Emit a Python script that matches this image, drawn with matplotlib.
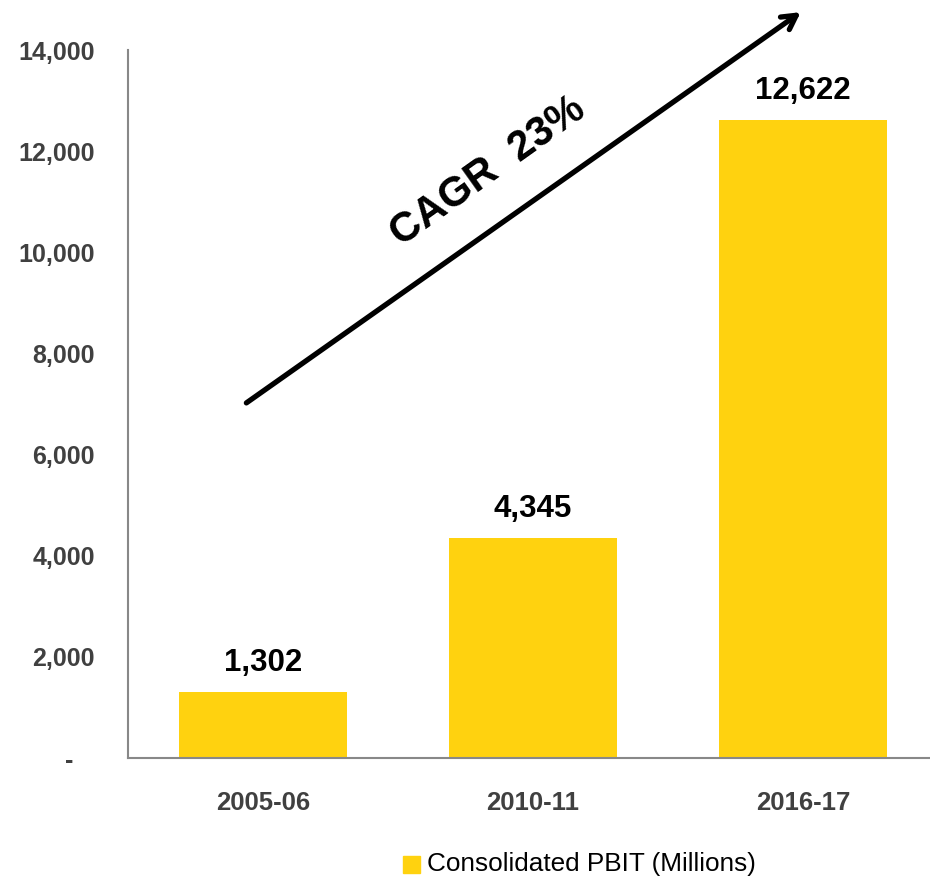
import matplotlib
matplotlib.use("Agg")
import matplotlib.pyplot as plt
from matplotlib import font_manager

categories = ["2005-06", "2010-11", "2016-17"]
values = [1302, 4345, 12622]
yticks = [0, 2000, 4000, 6000, 8000, 10000, 12000, 14000]
ytick_labels = ["-   ", "2,000", "4,000", "6,000", "8,000", "10,000", "12,000", "14,000"]
series_name = "Consolidated PBIT (Millions)"
cagr_text = "CAGR  23%"

names = {f.name for f in font_manager.fontManager.ttflist}
narrow = "Liberation Sans Narrow" if "Liberation Sans Narrow" in names else "Liberation Sans"
regular = "Liberation Sans" if "Liberation Sans" in names else "DejaVu Sans"
is_narrow = narrow == "Liberation Sans Narrow"

W, H = 930, 883
fig = plt.figure(figsize=(W / 100, H / 100), dpi=100)
ax = fig.add_axes([128 / W, 1 - 758 / H, (930 - 128) / W, (758 - 50) / H])

bar_color = "#FFD20F"
x = list(range(len(categories)))
bars = ax.bar(x, values, width=0.622, color=bar_color)
ax.set_xlim(-0.5, 2.5 - 8 / 270)
ax.set_ylim(0, 14000)

val_fs = 26 if is_narrow else 22.5
tick_fs = 20 if is_narrow else 18
xtick_fs = 21 if is_narrow else 18.5
leg_fs = 17 if is_narrow else 18.8

for xi, v in zip(x, values):
    ax.text(xi, v + 280, f"{v:,}", ha="center", va="bottom", fontsize=val_fs,
            fontweight="bold", family=narrow, color="black")

ax.set_yticks(yticks)
ax.set_yticklabels(ytick_labels)
ax.set_xticks(x)
ax.set_xticklabels(categories)
ax.tick_params(axis="both", length=0, colors="#404040")
ax.tick_params(axis="y", pad=24)
ax.tick_params(axis="x", pad=24)
for lab in ax.get_yticklabels() + ax.get_xticklabels():
    lab.set_family(narrow)
    lab.set_fontweight("bold")
    lab.set_fontsize(tick_fs)
for lab in ax.get_xticklabels():
    lab.set_fontsize(xtick_fs)

for s in ["top", "right"]:
    ax.spines[s].set_visible(False)
for s in ["left", "bottom"]:
    ax.spines[s].set_color("#888888")
    ax.spines[s].set_linewidth(1.5)

# growth arrow
ax.annotate("", xy=(2.0, 14780), xytext=(-0.07, 6990),
            arrowprops=dict(arrowstyle="->,head_length=1.0,head_width=0.55", lw=3.8, color="black"),
            annotation_clip=False)
ax.text(0.835, 11600, cagr_text, rotation=35.4, ha="center", va="center", fontsize=30,
        fontweight="bold", family=regular, color="black", rotation_mode="anchor")

# legend
fig.patches.append(plt.Rectangle((403 / W, 1 - 873 / H), 17 / W, 17 / H,
                                 transform=fig.transFigure, color=bar_color))
fig.text(427 / W, 1 - 864 / H, series_name, ha="left", va="center", fontsize=leg_fs,
         family=narrow, color="black")

fig.savefig("out.png", dpi=100)
